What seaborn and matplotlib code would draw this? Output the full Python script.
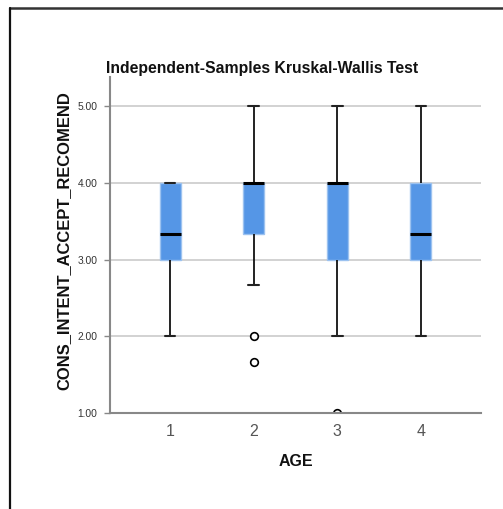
import matplotlib
matplotlib.use("Agg")
import matplotlib.pyplot as plt
from matplotlib.lines import Line2D
import numpy as np
import pandas as pd
import seaborn as sns

# Scores per AGE group (composite scale, thirds of a point)
age_1 = [2, 3, 3, 10/3, 4, 4, 4]
age_2 = [5/3, 2, 8/3, 10/3, 10/3, 11/3, 4, 4, 4, 4, 4, 5, 5]
age_3 = [1, 2, 3, 3, 4, 4, 4, 5, 5]
age_4 = [2, 3, 3, 3, 10/3, 4, 4, 5, 5]
age_labels = ["1", "2", "3", "4"]
y_ticks = [1.0, 2.0, 3.0, 4.0, 5.0]

groups = [age_1, age_2, age_3, age_4]
df = pd.DataFrame({
    "AGE": np.concatenate([[lab] * len(g) for lab, g in zip(age_labels, groups)]),
    "CONS_INTENT_ACCEPT_RECOMEND": np.concatenate(groups),
})

sns.set_style("white")
plt.rcParams["font.family"] = ["Liberation Sans", "DejaVu Sans"]

W, H = 503, 509
fig = plt.figure(figsize=(W / 100, H / 100), dpi=100)
ax = fig.add_axes([110 / W, 1 - 413 / H, (481 - 110) / W, (413 - 77) / H])

for yv in y_ticks[1:]:
    ax.axhline(yv, color="#cfcfcf", lw=1.3, zorder=0)

sns.boxplot(
    data=df, x="AGE", y="CONS_INTENT_ACCEPT_RECOMEND", order=age_labels,
    ax=ax, width=0.25, whis=1.51, color="#5596e6", saturation=1,
    linecolor="#000000",
    boxprops=dict(facecolor="#5596e6", edgecolor="#9cc2f0", linewidth=1.0),
    medianprops=dict(color="#000000", linewidth=2.2),
    whiskerprops=dict(color="#111111", linewidth=1.3),
    capprops=dict(color="#222222", linewidth=1.5),
    flierprops=dict(marker="o", markersize=5.5, markerfacecolor="white",
                    markeredgecolor="#000000", markeredgewidth=1.2),
)

ax.set_xlim(-0.72, 3.72)
ax.set_ylim(1.0, 5.378)
ax.set_yticks(y_ticks)
ax.set_yticklabels([f"{v:.2f}" for v in y_ticks], fontsize=7.4, color="#333333")
ax.tick_params(axis="y", length=4, width=1, color="#888888", pad=5, left=True)
ax.tick_params(axis="x", length=0, pad=8, labelsize=11.5, labelcolor="#555555")

for side in ["top", "right"]:
    ax.spines[side].set_visible(False)
for side in ["left", "bottom"]:
    ax.spines[side].set_color("#888888")
    ax.spines[side].set_linewidth(1.5)

ax.set_xlabel("AGE", fontsize=11.5, fontweight="bold", color="#111111")
ax.set_ylabel("CONS_INTENT_ACCEPT_RECOMEND", fontsize=11.9, fontweight="bold", color="#111111")
ax.xaxis.set_label_coords(0.5, -(462 - 413) / 336, transform=ax.transAxes)
ax.yaxis.set_label_coords((64 - 110) / 371, 0.5 + 4.0 / 336)
ax.xaxis.label.set_va("center")
ax.yaxis.label.set_va("center")

fig.text(262.5 / W, 1 - 68 / H, "Independent-Samples Kruskal-Wallis Test",
         ha="center", va="center", fontsize=11.3, fontweight="bold", color="#111111")

# Outer chart frame (top and left edges)
fig.add_artist(Line2D([10 / W, 1.0], [1 - 8 / H, 1 - 8 / H], color="#333333", lw=1.8,
                      transform=fig.transFigure))
fig.add_artist(Line2D([10 / W, 10 / W], [0.0, 1 - 8 / H], color="#111111", lw=1.6,
                      transform=fig.transFigure))

fig.savefig("out.png", dpi=100, facecolor="white")
